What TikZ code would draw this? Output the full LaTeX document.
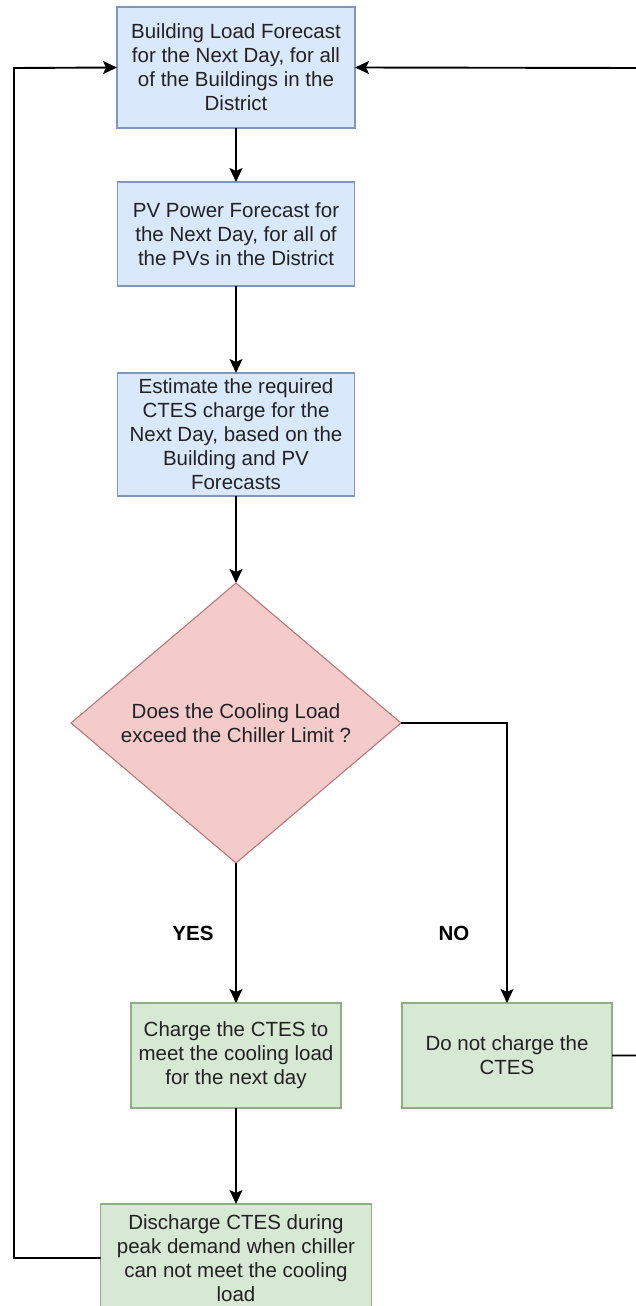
\documentclass[tikz,border=0pt]{standalone}
\usepackage{fontspec}
\setmainfont{Liberation Sans}
\usetikzlibrary{shapes.geometric,arrows.meta}
\definecolor{bluefill}{HTML}{DAE8FC}
\definecolor{blueline}{HTML}{7F97BA}
\definecolor{redfill}{HTML}{F5CACA}
\definecolor{redline}{HTML}{B57A78}
\definecolor{greenfill}{HTML}{D7E8D4}
\definecolor{greenline}{HTML}{8FAF85}
\definecolor{txt}{HTML}{222222}
\begin{document}
\begin{tikzpicture}[x=1pt,y=1pt,
  every node/.style={font=\fontsize{20.5}{24}\selectfont, text=txt, align=center, inner sep=0pt, outer sep=0pt},
  bluebox/.style={draw=blueline, fill=bluefill, line width=1.3pt, rectangle},
  greenbox/.style={draw=greenline, fill=greenfill, line width=1.3pt, rectangle},
  decision/.style={draw=redline, fill=redfill, line width=1.1pt, diamond, aspect=1.19},
  conn/.style={draw=black, line width=1.9pt},
  arr/.style={conn, -{Stealth[length=14pt,width=13pt,inset=3pt]}},
  lbl/.style={font=\bfseries\fontsize{20.5}{24}\selectfont, text=black}
]
\useasboundingbox (0,0) rectangle (636,-1306);
\begin{scope}
\clip (0,0) rectangle (636,-1306);
\node[bluebox, minimum width=238, minimum height=121] (b1) at (236,-67.5)
  {Building Load Forecast\\for the Next Day, for all\\of the Buildings in the\\District};
\node[bluebox, minimum width=237, minimum height=104] (b2) at (236,-234)
  {PV Power Forecast for\\the Next Day, for all of\\the PVs in the District};
\node[bluebox, minimum width=237, minimum height=123] (b3) at (236,-434.5)
  {Estimate the required\\CTES charge for the\\Next Day, based on the\\Building and PV\\Forecasts};
\node[decision, minimum width=330, minimum height=280] (d) at (236,-723)
  {Does the Cooling Load\\exceed the Chiller Limit ?};
\node[greenbox, minimum width=210, minimum height=105] (b4) at (236,-1055.5)
  {Charge the CTES to\\meet the cooling load\\for the next day};
\node[greenbox, minimum width=210, minimum height=105] (b5) at (507,-1055.5)
  {Do not charge the\\CTES};
\node[greenbox, minimum width=271, minimum height=108] (b6) at (236,-1258)
  {Discharge CTES during\\peak demand when chiller\\can not meet the cooling\\load};
\node[lbl] (yes) at (193,-933) {YES};
\node[lbl] (no) at (454,-933) {NO};
\coordinate (L) at (14,-68);
\coordinate (R) at (639,-68);
\draw[arr] (b1.south) -- (b2.north);
\draw[arr] (b2.south) -- (b3.north);
\draw[arr] (b3.south) -- (d.north);
\draw[arr] (d.south) -- (b4.north);
\draw[arr] (d.east) -| (b5.north);
\draw[arr] (b4.south) -- (b6.north);
\draw[arr] (b6.west) -| (L) -- (b1.west);
\draw[arr] (b5.east) -| (R) -- (b1.east);
\end{scope}
\end{tikzpicture}
\end{document}
